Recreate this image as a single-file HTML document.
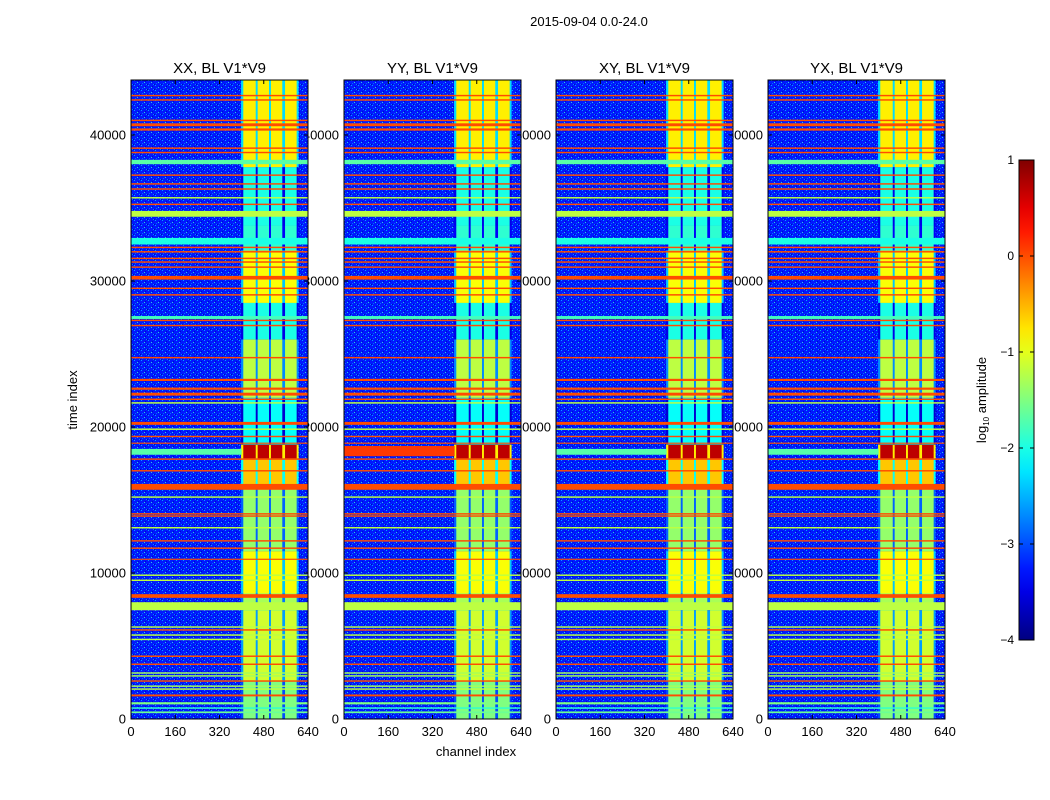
<!DOCTYPE html>
<html><head><meta charset="utf-8"><style>
body{margin:0;background:#fff;}
svg{display:block;font-family:"Liberation Sans",sans-serif;}
</style></head><body>
<svg id="fig" width="1050" height="800" viewBox="0 0 1050 800" xmlns="http://www.w3.org/2000/svg">
<defs>
<pattern id="speckle" width="7" height="5" patternUnits="userSpaceOnUse">
<rect x="1" y="0" width="1" height="1" fill="#00c8ff"/>
<rect x="4" y="2" width="1" height="1" fill="#30ffd0"/>
<rect x="2" y="3" width="1" height="1" fill="#0080ff"/>
<rect x="6" y="4" width="1" height="1" fill="#00a0ff"/>
<rect x="5" y="1" width="1" height="1" fill="#0000c0"/>
<rect x="0" y="4" width="1" height="1" fill="#0000a0"/>
</pattern>
</defs>
<rect width="1050" height="800" fill="#fff"/>
<text x="589" y="26" font-size="13" text-anchor="middle">2015-09-04 0.0-24.0</text>
<text x="476" y="756" font-size="13" text-anchor="middle">channel index</text>
<text transform="translate(77,400) rotate(-90)" font-size="13" text-anchor="middle">time index</text>
<g id="labels"></g>
<g id="panels"></g>
<g id="cbar"></g>
</svg>
<script>
// ---- data ----
const panelTitles = ["XX, BL V1*V9","YY, BL V1*V9","XY, BL V1*V9","YX, BL V1*V9"];
const xTicks = [0,160,320,480,640];
const yTicks = [0,10000,20000,30000,40000];
const cbTicks = [1,0,-1,-2,-3,-4];
const baseValue = -3.25;
// bright channel columns [ch0, ch1]
const colBands = [[406,451],[458,499],[506,547],[557,599]];
const colEnvelope = [398,606];
// column amplitude per time region [t0, t1, log10 amp]
const colRegions = [
 [0,2600,-1.5],[2600,7400,-1.1],[7400,8600,-1.3],[8600,11500,-0.9],[11500,16000,-1.4],
 [16000,17850,-0.6],[17850,18800,0.7],[18800,22000,-2.1],[22000,26000,-1.2],[26000,28500,-2.0],
 [28500,32100,-0.9],[32100,33800,-1.9],[33800,37800,-2.0],[37800,43800,-0.8]];
// horizontal bands [t0, t1, log10 amp, chEnd]
const rowBands = [
 [400,520,-1.6,640],[700,800,-1.9,640],[1000,1150,-1.5,640],[1550,1680,0.0,640],
 [2000,2100,-1.2,640],[2200,2300,-1.3,640],[2550,2650,0.0,640],[2900,3000,-1.3,640],[3100,3200,-1.3,640],
 [3700,3800,0.0,640],[4250,4350,0.0,640],[5400,5500,-1.2,640],[5700,5800,-1.2,640],[6050,6150,0.0,640],
 [6250,6350,-1.2,640],[7450,8000,-1.2,640],[8300,8550,0.0,640],[9450,9550,-1.2,640],[9800,9900,-1.2,640],
 [10900,10980,0.0,640],[11650,11750,0.0,640],[12150,12250,0.0,640],[13050,13150,-1.2,640],
 [13850,13950,0.0,640],[14000,14100,0.0,640],[15150,15250,-1.2,640],[15700,16100,0.0,640],
 [16950,17050,0.0,640],[17750,17850,0.0,640],[18100,18500,-1.7,400],[18850,18930,0.0,640],
 [19300,19400,0.0,640],[19800,19900,-1.2,640],[20150,20350,0.0,640],[21600,21700,-1.2,640],
 [21850,21950,0.0,640],[22150,22350,0.0,640],[22550,22700,0.0,640],[23150,23300,0.0,640],
 [24700,24800,0.0,640],[26900,27000,0.0,640],[27250,27350,0.0,640],[27400,27600,-1.8,640],
 [29000,29100,0.0,640],[29450,29550,0.0,640],[30100,30350,0.0,640],[30900,31000,0.0,640],
 [31250,31350,0.0,640],[31500,31600,0.0,640],[31950,32050,0.0,640],[32250,32350,0.0,640],
 [32500,32950,-2.0,640],[34400,34800,-1.2,640],[35200,35300,0.0,640],[35650,35750,-1.2,640],
 [36250,36350,0.0,640],[36600,36700,0.0,640],[37200,37300,0.0,640],[38000,38300,-1.7,640],
 [38750,38850,0.0,640],[39050,39150,0.0,640],[40300,40450,0.0,640],[40600,40800,0.0,640],
 [40950,41050,0.0,640],[42350,42450,0.0,640],[42650,42750,0.0,640]];
// panel-specific extra bands [panel, t0, t1, amp, chEnd]
const extraBands = [[1,18000,18700,0.1,400]];

// ---- geometry ----
const panelX = [131,344,556,768], panelW = 177, topY = 80, bottomY = 719;
const cbX = 1019, cbW = 15, cbTop = 160, cbBot = 640, vMin = -4, vMax = 1;
const NS = "http://www.w3.org/2000/svg";
function mk(tag, attrs, parent){const e=document.createElementNS(NS,tag);for(const k in attrs)e.setAttribute(k,attrs[k]);parent.appendChild(e);return e;}
function jet(v){
  const x=Math.max(0,Math.min(1,(v-vMin)/(vMax-vMin)));
  const c=f=>Math.round(255*Math.max(0,Math.min(1,f)));
  return `rgb(${c(Math.min(4*x-1.5,-4*x+4.5))},${c(Math.min(4*x-0.5,-4*x+3.5))},${c(Math.min(4*x+0.5,-4*x+2.5))})`;
}
function yOf(t){return bottomY-(t/40000)*(bottomY-135);}
function xOf(p,ch){return panelX[p]+ch/640*panelW;}

const labels=document.getElementById('labels'), panels=document.getElementById('panels'), cbar=document.getElementById('cbar');
panelX.forEach((px,p)=>{
  yTicks.forEach(t=>{
    const tl=mk('text',{x:px-5,y:yOf(t)+4.5,'font-size':13,'text-anchor':'end'},labels);
    
    
    tl.textContent=t;
  });
  xTicks.forEach(c=>{
    const tl=mk('text',{x:xOf(p,c),y:bottomY+17,'font-size':13,'text-anchor':'middle'},labels);
    
    
    tl.textContent=c;
  });
  const tt=mk('text',{x:px+panelW/2,y:73,'font-size':15,'text-anchor':'middle'},labels);
  
  
  tt.textContent=panelTitles[p];
});
panelX.forEach((px,p)=>{
  const g=mk('g',{},panels);
  
  
  const bg=mk('rect',{x:px,y:topY,width:panelW,height:bottomY-topY,fill:jet(baseValue)},g);
  
  
  mk('rect',{x:px,y:topY,width:xOf(p,colEnvelope[0])-px,height:bottomY-topY,fill:'url(#speckle)',opacity:0.8},g);
  mk('rect',{x:xOf(p,colEnvelope[1]),y:topY,width:px+panelW-xOf(p,colEnvelope[1]),height:bottomY-topY,fill:'url(#speckle)',opacity:0.8},g);
  colRegions.forEach(([t0,t1,v])=>{
    const y0=Math.max(topY,yOf(t1)), y1=yOf(t0);
    const env=mk('rect',{x:xOf(p,colEnvelope[0]),y:y0,width:xOf(p,colEnvelope[1])-xOf(p,colEnvelope[0]),height:y1-y0,fill:jet(v-1.5)},g);
    
    
    colBands.forEach(([c0,c1])=>{
      const r=mk('rect',{x:xOf(p,c0),y:y0,width:xOf(p,c1)-xOf(p,c0),height:y1-y0,fill:jet(v)},g);
      
      
    });
  });
  const bands=rowBands.concat(extraBands.filter(b=>b[0]===p).map(b=>b.slice(1)));
  bands.forEach(([t0,t1,v,ce])=>{
    const y0=Math.max(topY,yOf(t1)), y1=yOf(t0);
    const r=mk('rect',{x:px,y:y0,width:xOf(p,ce)-px,height:Math.max(1,y1-y0),fill:jet(v)},g);
    
    
  });
  mk('rect',{x:px,y:topY,width:panelW,height:bottomY-topY,fill:'none',stroke:'#000','stroke-width':1},g);
  xTicks.forEach(c=>{const x=xOf(p,c);mk('line',{x1:x,x2:x,y1:bottomY,y2:bottomY-4,stroke:'#000'},g);mk('line',{x1:x,x2:x,y1:topY,y2:topY+4,stroke:'#000'},g);});
  yTicks.forEach(t=>{const y=yOf(t);mk('line',{x1:px,x2:px+4,y1:y,y2:y,stroke:'#000'},g);mk('line',{x1:px+panelW,x2:px+panelW-4,y1:y,y2:y,stroke:'#000'},g);});
});
// colorbar
const defs=mk('defs',{},cbar);
const grad=mk('linearGradient',{id:'jetg',x1:0,y1:1,x2:0,y2:0},defs);
for(let i=0;i<=20;i++){mk('stop',{offset:i/20,'stop-color':jet(vMin+(vMax-vMin)*i/20)},grad);}
const cb=mk('rect',{x:cbX,y:cbTop,width:cbW,height:cbBot-cbTop,fill:'url(#jetg)',stroke:'#000'},cbar);


cbTicks.forEach(v=>{
  const y=cbBot-(v-vMin)/(vMax-vMin)*(cbBot-cbTop);
  mk('line',{x1:cbX,x2:cbX+4,y1:y,y2:y,stroke:'#000'},cbar);
  mk('line',{x1:cbX+cbW,x2:cbX+cbW-4,y1:y,y2:y,stroke:'#000'},cbar);
  const tl=mk('text',{x:cbX-5,y:y+4,'font-size':12,'text-anchor':'end'},cbar);
  
  
  tl.textContent=v<0?'\u2212'+(-v):String(v);
});
const cl=mk('text',{transform:'translate(986,400) rotate(-90)','font-size':13,'text-anchor':'middle'},cbar);


cl.innerHTML='log<tspan font-size="8" dy="3">10</tspan><tspan dy="-3"> amplitude</tspan>';
</script>
</body></html>
